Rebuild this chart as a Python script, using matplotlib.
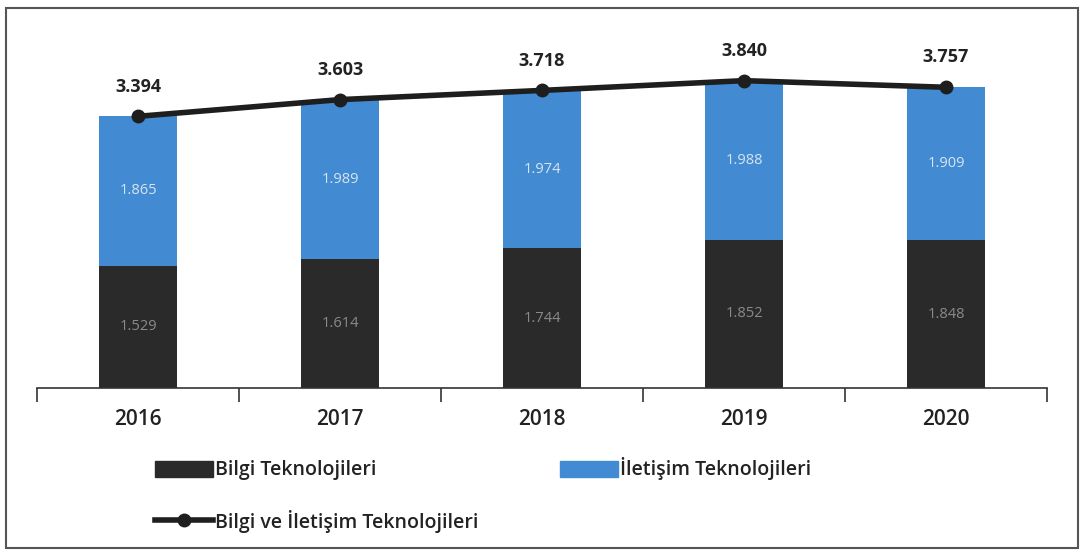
import matplotlib.pyplot as plt
from matplotlib.patches import Rectangle
from matplotlib.lines import Line2D

years = ["2016", "2017", "2018", "2019", "2020"]
bilgi = [1529, 1614, 1744, 1852, 1848]
iletisim = [1865, 1989, 1974, 1988, 1909]
toplam = [3394, 3603, 3718, 3840, 3757]

plt.rcParams['font.family'] = ['Open Sans', 'DejaVu Sans']

fig = plt.figure(figsize=(10.85, 5.54), dpi=100)
ax = fig.add_axes([37/1085, 1-388/554, 1010/1085, 373/554])

x = list(range(len(years)))
w = 0.39
black = '#2a2a2a'
blue = '#428bd2'
ax.bar(x, bilgi, width=w, color=black, zorder=2)
ax.bar(x, iletisim, width=w, bottom=bilgi, color=blue, zorder=2)
ax.plot(x, toplam, color='#1e1e1e', lw=4, marker='o', ms=9, zorder=3)

for i in x:
    ax.text(i, bilgi[i]/2, f"{bilgi[i]/1000:.3f}", ha='center', va='center',
            color='#8a8a8a', fontsize=10.5, zorder=4)
    ax.text(i, bilgi[i] + iletisim[i]/2, f"{iletisim[i]/1000:.3f}", ha='center', va='center',
            color='#d8e4f0', fontsize=10.5, zorder=4)
    ax.annotate(f"{toplam[i]/1000:.3f}", (i, toplam[i]), xytext=(0, 15),
                textcoords='offset points', ha='center', va='bottom',
                fontsize=13, fontweight='bold', color='#222222')

ax.set_xlim(-0.5, 4.5)
ax.set_ylim(0, 4660)
for s in ['top', 'right', 'left']:
    ax.spines[s].set_visible(False)
ax.spines['bottom'].set_color('#333333')
ax.spines['bottom'].set_linewidth(1.2)
ax.set_yticks([])
ax.set_xticks([-0.5, 0.5, 1.5, 2.5, 3.5, 4.5])
ax.set_xticklabels([])
ax.tick_params(axis='x', length=10, width=1.2, color='#333333', direction='out')
for i in x:
    ax.text(i, -0.085, years[i], transform=ax.get_xaxis_transform(), ha='center',
            va='center', fontsize=15, fontweight='semibold', color='#222222')

h1 = Rectangle((0, 0), 1, 1, color=black)
h2 = Rectangle((0, 0), 1, 1, color=blue)
h3 = Line2D([], [], color='#1e1e1e', lw=4, marker='o', ms=9)
fig.legend([h1, h3, h2], ["Bilgi Teknolojileri", "Bilgi ve İletişim Teknolojileri", "İletişim Teknolojileri"],
           ncol=2, loc='upper left', bbox_to_anchor=(137/1085, 1-440/554), frameon=False,
           prop={'size': 14, 'weight': 'semibold'}, handlelength=3, handleheight=0.9,
           handletextpad=0.1, columnspacing=4.2, labelspacing=1.5, labelcolor='#222222')

fig.patches.append(Rectangle((6/1085, 6/554), 1072/1085, 540/554, transform=fig.transFigure,
                             fill=False, edgecolor='#555555', lw=1.5))

fig.savefig('out.png', dpi=100)
